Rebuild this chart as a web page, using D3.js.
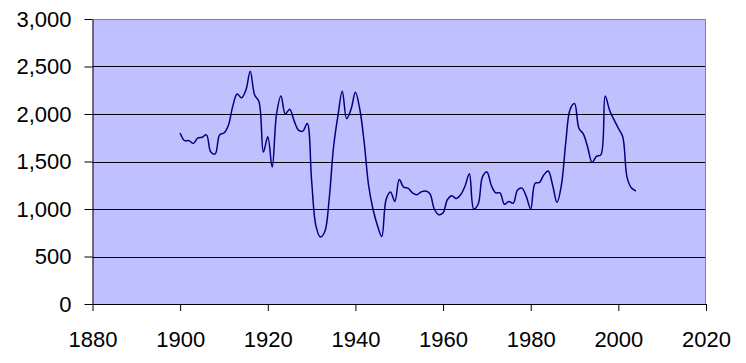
<!DOCTYPE html>
<html>
<head>
<meta charset="utf-8">
<script src="https://cdn.jsdelivr.net/npm/d3@7"></script>
<style>
  body { margin: 0; background: #fff; }
  text { font-family: "Liberation Sans", Arial, sans-serif; font-size: 22px; fill: #000; }
</style>
</head>
<body>
<script>
// yearly values 1900-2004
var startYear = 1900;
var values = [
  1800, 1720, 1720, 1690, 1745, 1755, 1780, 1600, 1580, 1780,
  1800, 1880, 2080, 2210, 2170, 2250, 2450, 2200, 2130, 1600,
  1760, 1440, 2000, 2190, 2000, 2050, 1930, 1830, 1820, 1900,
  1300, 820, 705, 760, 1100, 1650, 1980, 2240, 1950, 2050,
  2230, 2050, 1700, 1250, 1000, 830, 710, 1100, 1180, 1080,
  1310, 1230, 1220, 1170, 1150, 1180, 1190, 1160, 1000, 940,
  960, 1100, 1140, 1110, 1150, 1240, 1370, 1000, 1050, 1340,
  1390, 1250, 1170, 1170, 1050, 1080, 1060, 1200, 1220, 1130,
  1000, 1270, 1280, 1360, 1400, 1250, 1070, 1250, 1700, 2050,
  2110, 1850, 1790, 1650, 1490, 1555, 1570, 2190, 2040, 1940,
  1850, 1760, 1330, 1220, 1190
];
var xTicks = [1880, 1900, 1920, 1940, 1960, 1980, 2000, 2020];
var yTicks = [0, 500, 1000, 1500, 2000, 2500, 3000];

var width = 746,
    height = 363;
var plotL = 92.5, plotR = 706, plotT = 19, plotB = 304;

var svg = d3.select("body")
    .append("svg")
    .attr("width", width)
    .attr("height", height);

var x = d3.scaleLinear().domain([1880, 2020]).range([plotL, plotR]);
var y = d3.scaleLinear().domain([0, 3000]).range([plotB, plotT]);

//plot area
svg.append("rect")
    .attr("x", plotL)
    .attr("y", plotT)
    .attr("width", plotR - plotL)
    .attr("height", plotB - plotT)
    .attr("fill", "#c0c0ff");

//gridlines
svg.selectAll(".grid")
    .data(yTicks.slice(1, -1))
    .enter()
    .append("line")
    .attr("x1", plotL)
    .attr("x2", plotR)
    .attr("y1", function(d){ return Math.round(y(d)) + 0.5; })
    .attr("y2", function(d){ return Math.round(y(d)) + 0.5; })
    .attr("stroke", "#000")
    .attr("stroke-width", 1);

//grey border top and right
svg.append("path")
    .attr("d", "M" + plotL + "," + (plotT + 0.5) + "H" + (plotR - 0.5) + "V" + plotB)
    .attr("fill", "none")
    .attr("stroke", "#808080");

var line = d3.line()
    .x(function(d, i){ return x(startYear + i); })
    .y(function(d){ return y(d); })
    .curve(d3.curveCatmullRom.alpha(0.5));

svg.append("path")
    .datum(values)
    .attr("d", line)
    .attr("fill", "none")
    .attr("stroke", "#000080")
    .attr("stroke-width", 1.5);

//axes
var yAxis = svg.append("g")
    .attr("transform", "translate(" + plotL + ",0)")
    .call(d3.axisLeft(y)
        .tickValues(yTicks)
        .tickSize(8)
        .tickSizeOuter(0)
        .tickPadding(13)
        .tickFormat(d3.format(",")));

var xAxis = svg.append("g")
    .attr("transform", "translate(0," + plotB + ")")
    .call(d3.axisBottom(x)
        .tickValues(xTicks)
        .tickSize(7)
        .tickSizeOuter(0)
        .tickPadding(20)
        .tickFormat(d3.format("d")));

svg.selectAll(".domain, .tick line").attr("stroke", "#000");
svg.selectAll(".tick text")
    .attr("font-family", null)
    .attr("font-size", null);
</script>
</body>
</html>
